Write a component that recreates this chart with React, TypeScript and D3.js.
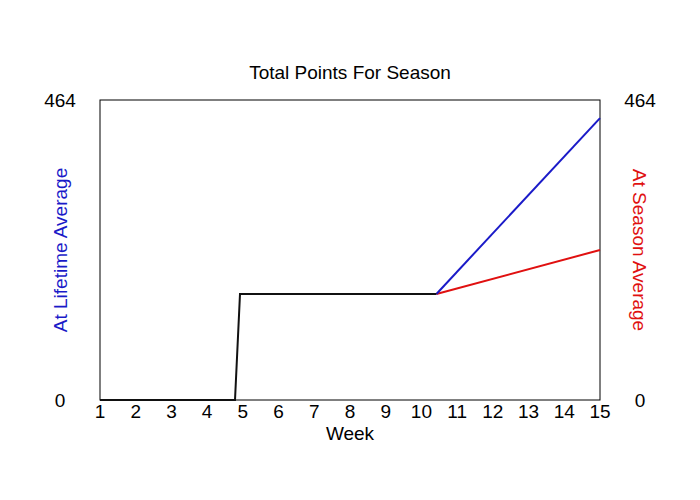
import React from "react";
import * as d3 from "d3";

const weeks = d3.range(1, 16);
const actualWeeks = [1, 4.78, 4.92, 10.42];
const actualPoints = [0, 0, 164, 164];
const projWeeks = [10.42, 15];
const lifetimePoints = [164, 436];
const seasonPoints = [164, 232];
const yMax = 464;

export default function App() {
  const W = 700, H = 500;
  const m = { l: 100, r: 100, t: 100, b: 100 };
  const x = d3.scaleLinear().domain([1, 15]).range([m.l, W - m.r]);
  const y = d3.scaleLinear().domain([0, yMax]).range([H - m.b, m.t]);
  const line = d3.line<[number, number]>().x(d => x(d[0])).y(d => y(d[1]));
  const zip = (a: number[], b: number[]) => a.map((v, i) => [v, b[i]] as [number, number]);
  const font = "Liberation Sans, Arial, sans-serif";
  const fs = 19;
  return (
    <svg width={W} height={H} style={{ position: "absolute", left: 0, top: 0 }} fontFamily={font}>
      <rect width={W} height={H} fill="white" />
      <text x={350} y={79} textAnchor="middle" fontSize={fs}>Total Points For Season</text>
      <rect x={m.l} y={m.t} width={W - m.l - m.r} height={H - m.t - m.b} fill="none" stroke="black" strokeWidth={1} />
      <path d={line(zip(projWeeks, seasonPoints)) || ""} fill="none" stroke="#e01010" strokeWidth={2} />
      <path d={line(zip(projWeeks, lifetimePoints)) || ""} fill="none" stroke="#1a1ac8" strokeWidth={2} />
      <path d={line(zip(actualWeeks, actualPoints)) || ""} fill="none" stroke="#111" strokeWidth={2} />
      {weeks.map(w => (
        <text key={w} x={x(w)} y={418} textAnchor="middle" fontSize={fs}>{w}</text>
      ))}
      <text x={350} y={440} textAnchor="middle" fontSize={fs}>Week</text>
      <text x={60} y={y(yMax) + 7} textAnchor="middle" fontSize={fs}>{yMax}</text>
      <text x={60} y={y(0) + 7} textAnchor="middle" fontSize={fs}>0</text>
      <text x={640} y={y(yMax) + 7} textAnchor="middle" fontSize={fs}>{yMax}</text>
      <text x={640} y={y(0) + 7} textAnchor="middle" fontSize={fs}>0</text>
      <text transform="translate(67,250) rotate(-90)" textAnchor="middle" fontSize={fs} fill="#1a1ac8">At Lifetime Average</text>
      <text transform="translate(633,250) rotate(90)" textAnchor="middle" fontSize={fs} fill="#e01010">At Season Average</text>
    </svg>
  );
}
